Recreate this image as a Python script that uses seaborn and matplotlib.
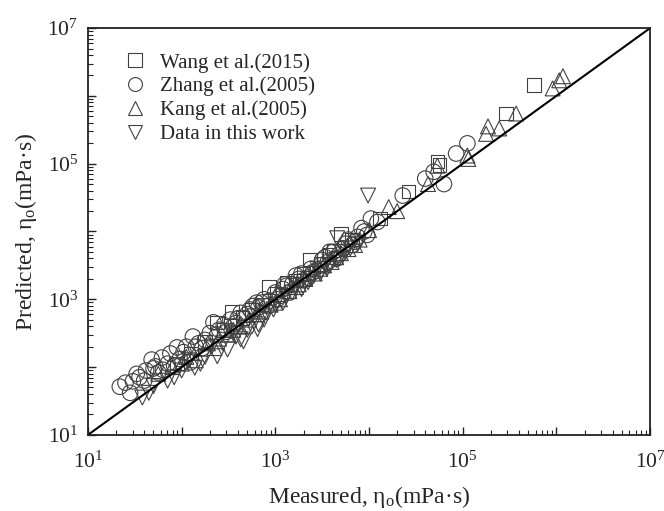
import numpy as np
import pandas as pd
import matplotlib
matplotlib.use("Agg")
import matplotlib.pyplot as plt
from matplotlib.ticker import FixedLocator, LogLocator, FuncFormatter, NullFormatter
import seaborn as sns

# ---- data (log10 of values) ----
wang_log_measured = [1.95, 2.10, 2.25, 2.38, 2.54, 2.65, 2.75, 2.93, 3.02, 3.12, 3.22, 3.37, 3.48,
                     3.58, 3.70, 3.82, 4.12, 4.42, 4.73, 4.75, 5.46, 5.76,
                     2.45, 2.85, 3.30, 3.62]
wang_log_predicted = [2.05, 2.20, 2.38, 2.66, 2.81, 2.72, 2.85, 3.18, 3.08, 3.25, 3.28, 3.59, 3.52,
                      3.66, 3.96, 3.88, 4.19, 4.59, 5.03, 4.98, 5.74, 6.16,
                      2.55, 2.92, 3.38, 3.72]

zhang_log_measured = [1.34, 1.40, 1.48, 1.55, 1.62, 1.68, 1.72, 1.79, 1.80, 1.88, 1.95, 2.02, 2.09,
                      2.12, 2.18, 2.25, 2.34, 2.40, 2.45, 2.52, 2.58, 2.63, 2.70, 2.76, 2.82, 2.88,
                      2.94, 3.00, 3.05, 3.12, 3.18, 3.25, 3.30, 3.38, 3.44, 3.50, 3.56, 3.62, 3.68,
                      3.75, 3.82, 3.88, 3.95, 4.02, 4.09, 4.36, 4.60, 4.69, 4.80, 4.93, 5.05,
                      1.45, 1.60, 1.75, 1.85, 1.98, 2.05, 2.22, 2.30, 2.48, 2.55, 2.67, 2.73, 2.85,
                      2.92, 3.02, 3.08, 3.15, 3.22, 3.35, 3.40, 3.48, 3.53, 3.65, 3.72, 3.85, 3.92, 3.98,
                      1.52, 1.70, 1.92, 2.15, 2.38, 2.60, 2.80, 3.10, 3.28, 3.58, 3.78]
zhang_log_predicted = [1.71, 1.77, 1.79, 1.85, 1.95, 2.11, 2.01, 2.14, 1.96, 2.20, 2.29, 2.22, 2.07,
                       2.45, 2.35, 2.40, 2.66, 2.55, 2.62, 2.70, 2.65, 2.80, 2.78, 2.90, 2.88, 3.00,
                       2.98, 3.10, 3.05, 3.20, 3.22, 3.30, 3.28, 3.45, 3.42, 3.58, 3.55, 3.70, 3.66,
                       3.82, 3.80, 3.92, 4.00, 4.19, 4.14, 4.53, 4.78, 4.88, 4.70, 5.15, 5.30,
                       1.62, 1.80, 1.92, 2.05, 2.12, 2.30, 2.28, 2.50, 2.52, 2.60, 2.72, 2.85, 2.95,
                       2.90, 3.00, 3.15, 3.10, 3.35, 3.32, 3.40, 3.50, 3.62, 3.60, 3.75, 3.85, 4.05, 3.95,
                       1.90, 1.98, 2.02, 2.30, 2.48, 2.72, 2.95, 3.22, 3.38, 3.70, 3.88]

kang_log_measured = [1.75, 1.90, 2.05, 2.15, 2.28, 2.40, 2.50, 2.62, 2.72, 2.85, 2.95, 3.05, 3.15,
                     3.22, 3.32, 3.42, 3.52, 3.60, 3.70, 3.78, 3.90, 4.00, 4.21, 4.30, 4.63, 4.73,
                     5.05, 5.06, 5.25, 5.27, 5.39, 5.57, 5.96, 6.03, 6.07,
                     2.00, 2.35, 2.55, 2.80, 3.00, 3.25, 3.48, 3.65, 3.85]
kang_log_predicted = [1.90, 2.00, 2.15, 2.10, 2.35, 2.42, 2.48, 2.60, 2.70, 2.82, 2.92, 3.00, 3.12,
                      3.18, 3.30, 3.38, 3.50, 3.55, 3.68, 3.74, 3.88, 4.02, 4.36, 4.30, 4.70, 4.97,
                      5.12, 5.07, 5.44, 5.55, 5.52, 5.74, 6.11, 6.23, 6.29,
                      2.05, 2.28, 2.55, 2.78, 2.95, 3.22, 3.45, 3.62, 3.80]

work_log_measured = [1.58, 1.70, 1.85, 2.00, 2.14, 2.25, 2.38, 2.49, 2.58, 2.66, 2.75, 2.82, 2.90,
                     2.98, 3.08, 3.18, 3.28, 3.38, 3.48, 3.58, 3.68, 3.80, 3.99, 3.66, 2.63, 2.81,
                     1.65, 1.92, 2.08, 2.20, 2.32, 2.44, 2.55, 2.70, 2.78, 2.88, 3.00, 3.12, 3.22,
                     3.35, 3.45, 3.55, 3.65, 3.75, 3.88]
work_log_predicted = [1.55, 1.72, 1.80, 1.95, 1.99, 2.15, 2.16, 2.26, 2.45, 2.38, 2.60, 2.63, 2.80,
                      2.85, 2.95, 3.10, 3.15, 3.30, 3.38, 3.50, 3.60, 3.75, 4.53, 3.90, 2.41, 2.56,
                      1.62, 1.85, 2.10, 2.05, 2.30, 2.35, 2.50, 2.55, 2.75, 2.70, 2.92, 3.05, 3.20,
                      3.25, 3.45, 3.45, 3.58, 3.70, 3.82]

series_labels = ["Wang et al.(2015)", "Zhang et al.(2005)", "Kang et al.(2005)", "Data in this work"]
parity_line = [1e1, 1e7]
decades = [1e1, 1e2, 1e3, 1e4, 1e5, 1e6, 1e7]

# ---- style ----
sns.set_style("white")
plt.rcParams["font.family"] = ["Liberation Serif", "DejaVu Serif"]
plt.rcParams["mathtext.fontset"] = "custom"
plt.rcParams["mathtext.rm"] = "Liberation Serif"
plt.rcParams["mathtext.it"] = "Liberation Serif:italic"

fig = plt.figure(figsize=(6.64, 5.11), dpi=100)
ax = fig.add_axes([0.1325, 0.149, 0.8465, 0.796])

edge = "#404040"
specs = [
    (wang_log_measured, wang_log_predicted, "s", 95),
    (zhang_log_measured, zhang_log_predicted, "o", 125),
    (kang_log_measured, kang_log_predicted, "^", 115),
    (work_log_measured, work_log_predicted, "v", 115),
]
handles = []
for (lx, ly, mk, sz), lab in zip(specs, series_labels):
    df = pd.DataFrame({"Measured": np.power(10.0, lx), "Predicted": np.power(10.0, ly)})
    sns.scatterplot(data=df, x="Measured", y="Predicted", marker=mk, s=sz,
                    facecolor="none", edgecolor=edge, linewidth=0.8, ax=ax, legend=False)
    handles.append(plt.Line2D([], [], linestyle="none", marker=mk, markersize=10,
                              markerfacecolor="none", markeredgecolor=edge,
                              markeredgewidth=0.8, label=lab))

sns.lineplot(x=parity_line, y=parity_line, color="black", linewidth=1.5, ax=ax)

ax.set_xscale("log")
ax.set_yscale("log")
ax.set_xlim(1e1, 1e7)
ax.set_ylim(1e1, 1e7)

def fmt(v, pos):
    e = int(round(np.log10(v)))
    return r"$\mathdefault{10^{%d}}$" % e if e % 2 == 1 else ""

for axis in (ax.xaxis, ax.yaxis):
    axis.set_major_locator(FixedLocator(decades))
    axis.set_major_formatter(FuncFormatter(fmt))
    axis.set_minor_locator(LogLocator(base=10, subs=np.arange(2, 10), numticks=20))
    axis.set_minor_formatter(NullFormatter())

ax.tick_params(which="major", direction="in", length=6, width=1.0, labelsize=15.5,
               bottom=True, left=True, top=False, right=False, colors="#222222")
ax.tick_params(axis="x", which="major", pad=12)
ax.tick_params(axis="y", which="major", pad=7)
ax.tick_params(which="minor", direction="in", length=3.5, width=0.8,
               bottom=True, left=True, top=False, right=False, colors="#222222")
for sp in ax.spines.values():
    sp.set_linewidth(1.3)
    sp.set_color("#222222")

ax.set_xlabel("Measured, η$_\\mathregular{o}$(mPa·s)", fontsize=17, labelpad=8)
ax.set_ylabel("Predicted, η$_\\mathregular{o}$(mPa·s)", fontsize=17, labelpad=6)

ax.legend(handles=handles, loc="upper left", bbox_to_anchor=(0.04, 0.97), frameon=False,
          fontsize=15, handletextpad=0.6, labelspacing=0.2, borderaxespad=0.2,
          handlelength=1.2)

fig.savefig("out.png", dpi=100)
